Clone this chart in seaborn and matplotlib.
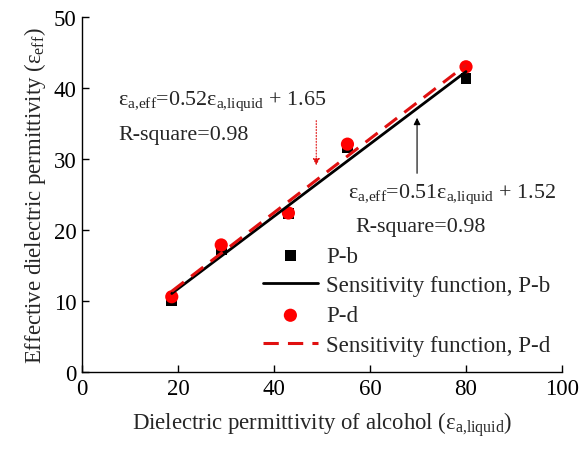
import matplotlib
matplotlib.use("Agg")
import matplotlib.pyplot as plt
import seaborn as sns
import pandas as pd

# data
x_vals = [18.7, 29.0, 43.0, 55.3, 80.0]
pb_vals = [10.1, 17.2, 22.3, 31.6, 41.4]
pd_vals = [10.6, 17.9, 22.4, 32.1, 43.0]
fit_x = [18.7, 80.0]
fit_pb = [11.06, 42.32]
fit_pd = [11.37, 43.25]
x_ticks = [0, 20, 40, 60, 80, 100]
y_ticks = [0, 10, 20, 30, 40, 50]

sns.set_theme(style="ticks")
plt.rcParams['font.family'] = ['Liberation Serif', 'DejaVu Serif']
plt.rcParams['mathtext.fontset'] = 'custom'
plt.rcParams['mathtext.rm'] = 'Liberation Serif'
plt.rcParams['mathtext.it'] = 'Liberation Serif:italic'

fig = plt.figure(figsize=(5.8, 4.52), dpi=100)
ax = fig.add_axes([0.1414, 0.1748, 0.8276, 0.7852])

df_pts = pd.DataFrame({'x': x_vals, 'pb': pb_vals, 'pd': pd_vals})
df_fit = pd.DataFrame({'x': fit_x, 'pb': fit_pb, 'pd': fit_pd})

sns.scatterplot(data=df_pts, x='x', y='pb', marker='s', color='black', s=60,
                edgecolor='none', ax=ax, label='P-b', zorder=3)
sns.lineplot(data=df_fit, x='x', y='pb', color='black', lw=2, ax=ax,
             label='Sensitivity function, P-b', zorder=4)
sns.scatterplot(data=df_pts, x='x', y='pd', marker='o', color='#ff0000', s=90,
                edgecolor='none', ax=ax, label='P-d', zorder=3)
sns.lineplot(data=df_fit, x='x', y='pd', color='#e01010', lw=2.2, ax=ax,
             label='Sensitivity function, P-d', zorder=4)
ax.lines[-1].set_dashes((5, 3))

ax.set_xlim(0, 100)
ax.set_ylim(0, 50)
ax.set_xticks(x_ticks)
ax.set_yticks(y_ticks)
ax.tick_params(direction='in', length=5, width=1, labelsize=16.5, colors='black', pad=4)
for s in ['top', 'right']:
    ax.spines[s].set_visible(False)
for s in ['left', 'bottom']:
    ax.spines[s].set_linewidth(1)
    ax.spines[s].set_color('black')

ax.set_xlabel(r'Dielectric permittivity of alcohol (ε$_{\rm a{,}liquid}$)', fontsize=16.4, labelpad=8)
ax.set_ylabel(r'Effective dielectric permittivity (ε$_{\rm eff}$)', fontsize=16.4, labelpad=4)

ax.text(7.5, 37.8, r'ε$_{\rm a{,}eff}$=0.52ε$_{\rm a{,}liquid}$ + 1.65', fontsize=15.8)
ax.text(7.5, 32.8, 'R-square=0.98', fontsize=15.8)
ax.annotate('', xy=(48.8, 28.7), xytext=(48.8, 35.8),
            arrowprops=dict(arrowstyle='-|>', color='#e01010', lw=0.8, ls=':',
                            mutation_scale=10))

ax.text(55.5, 24.6, r'ε$_{\rm a{,}eff}$=0.51ε$_{\rm a{,}liquid}$ + 1.52', fontsize=15.8)
ax.text(57.0, 19.9, 'R-square=0.98', fontsize=15.8)
ax.annotate('', xy=(69.8, 36.2), xytext=(69.8, 27.6),
            arrowprops=dict(arrowstyle='-|>', color='black', lw=0.8,
                            mutation_scale=10))

leg = ax.legend(loc='lower right', bbox_to_anchor=(1.0, 0.012), frameon=False,
                fontsize=16.6, handlelength=2.4, handletextpad=0.35,
                labelspacing=0.38, borderaxespad=0.1)

fig.savefig('out.png', dpi=100)
